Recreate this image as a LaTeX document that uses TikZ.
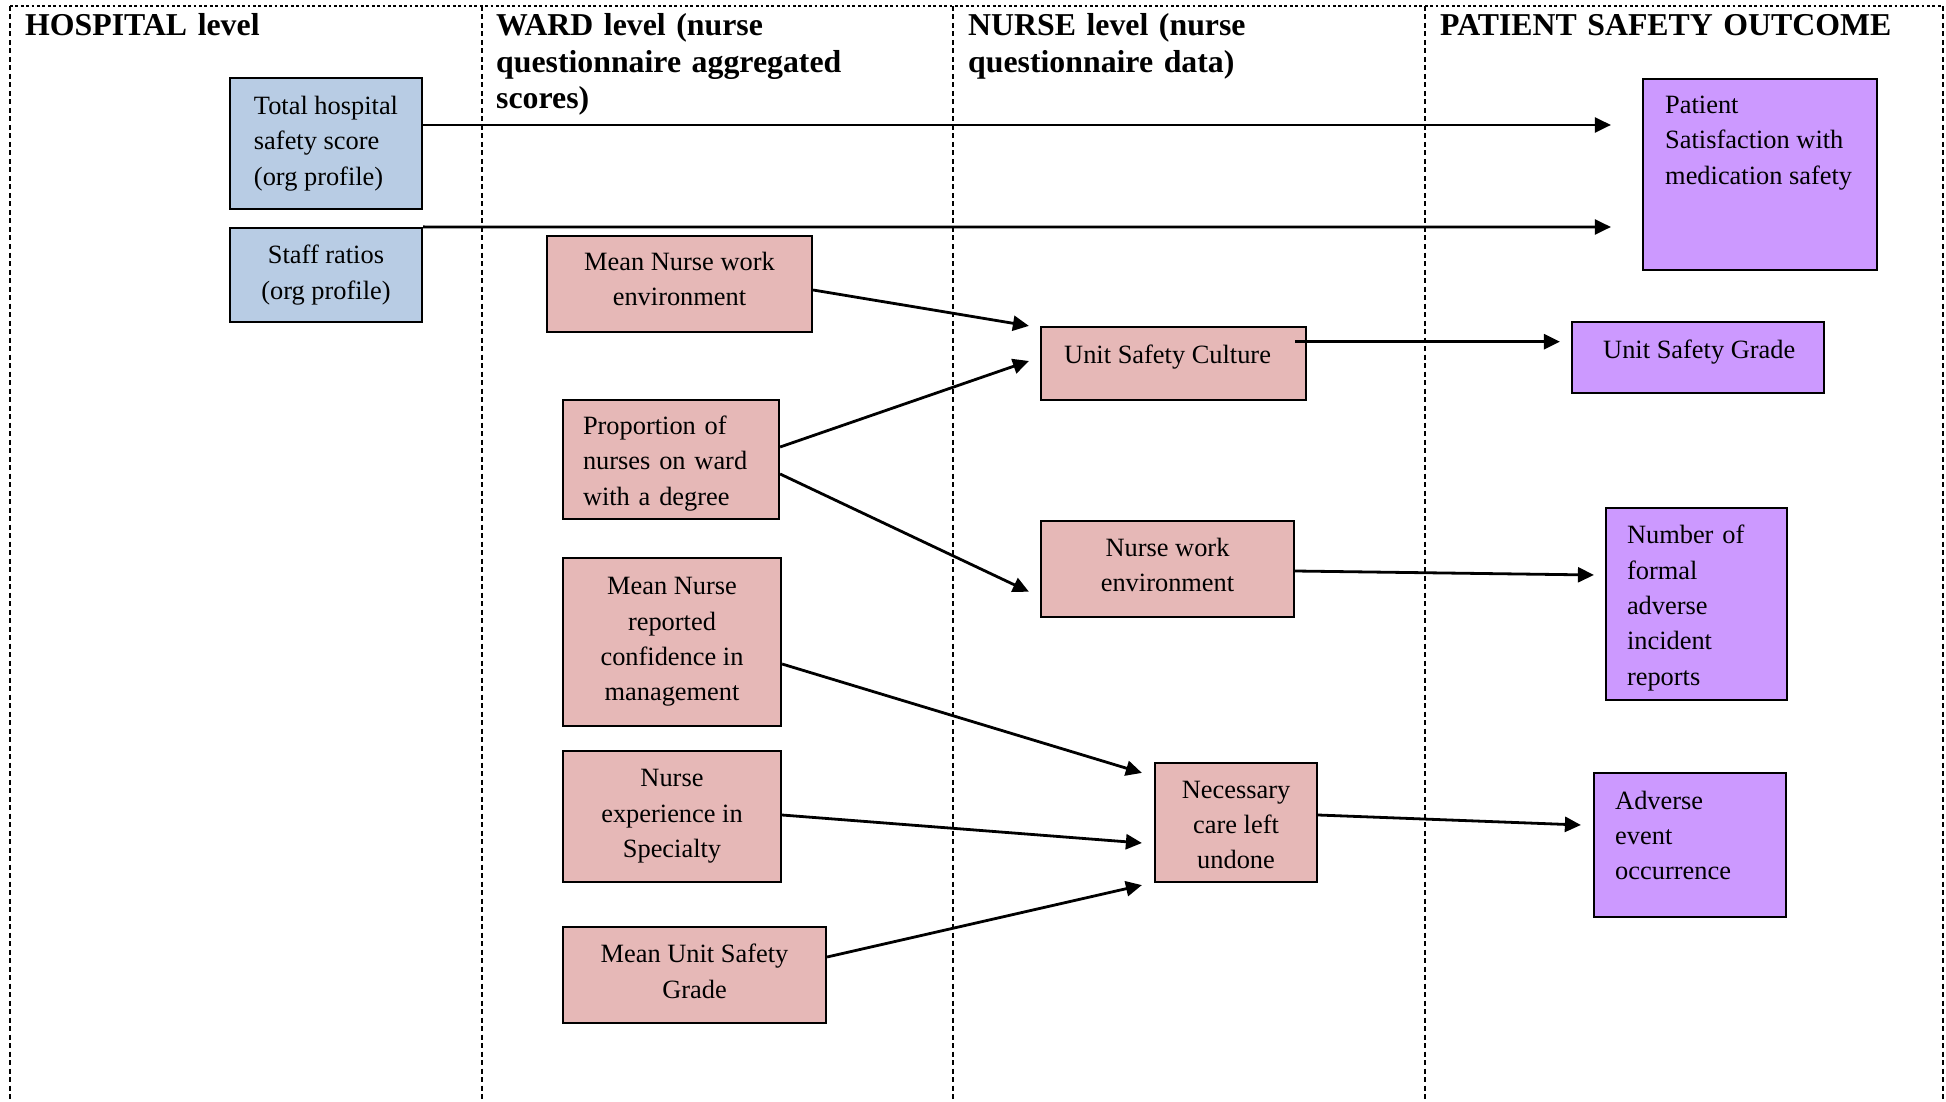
\documentclass[tikz,border=0pt]{standalone}
\usepackage{fontspec}
\setmainfont{Liberation Serif}
\usetikzlibrary{arrows.meta}
\definecolor{hospblue}{RGB}{184,204,228}
\definecolor{wardpink}{RGB}{230,184,183}
\definecolor{outpurple}{RGB}{204,153,255}
\begin{document}
\begin{tikzpicture}[x=1pt,y=-1pt,
  bodyfont/.style={font=\fontsize{26.4}{35.4}\selectfont},
  box/.style={draw=black, line width=2.2pt, rectangle, inner sep=0pt, bodyfont, align=center},
  lbox/.style={box, align=left, inner xsep=#1, inner ysep=0pt},
  txt/.style={inner sep=0pt, bodyfont, anchor=base west, align=left},
  head/.style={inner sep=0pt, anchor=base west, align=left, text width=460pt,
    font=\fontsize{31.8}{36.2}\selectfont\bfseries},
  divider/.style={line width=1.5pt, dash pattern=on 5pt off 3.5pt},
  topline/.style={line width=2.5pt, dash pattern=on 2.7pt off 2.7pt},
  arr/.style={line width=2.8pt, -{Triangle[length=16pt,width=15pt]}}
]
\useasboundingbox (0,0) rectangle (1946,1102);

% frame
\draw[topline] (10,6) -- (1943,6);
\draw[divider] (10,6) -- (10,1102);
\draw[divider] (482,6) -- (482,1102);
\draw[divider] (953,6) -- (953,1102);
\draw[divider] (1425,6) -- (1425,1102);
\draw[divider] (1943,6) -- (1943,1102);

% headers
\node[head] (h1) at (25,36) {HOSPITAL level};
\node[head, text width=420pt] (h2) at (496,36) {WARD level (nurse\\questionnaire aggregated\\scores)};
\node[head, text width=420pt] (h3) at (968,36) {NURSE level (nurse\\questionnaire data)};
\node[head] (h4) at (1440,36) {PATIENT SAFETY OUTCOME};

% hospital level
\node[box, fill=hospblue, minimum width=192pt, minimum height=131pt, align=left] (tot) at (326,143.3)
  {Total hospital\\safety score\\(org profile)};
\node[box, fill=hospblue, minimum width=192pt, minimum height=94pt] (staff) at (326,275)
  {Staff ratios\\(org profile)};

% ward level
\node[box, fill=wardpink, minimum width=265pt, minimum height=96pt, text depth=10pt] (mnwe) at (679.5,284)
  {Mean Nurse work\\environment};
\node[lbox=20pt, fill=wardpink, text width=176pt, minimum width=216pt, minimum height=119pt, text depth=68.5pt] (prop) at (671,459.5)
  {Proportion of\\nurses on ward\\with a degree};
\node[box, fill=wardpink, minimum width=218pt, minimum height=168pt] (mnrc) at (672,642)
  {Mean Nurse\\reported\\confidence in\\management};
\node[box, fill=wardpink, minimum width=218pt, minimum height=131pt] (nexp) at (672,816.5)
  {Nurse\\experience in\\Specialty};
\node[box, fill=wardpink, minimum width=263pt, minimum height=96pt, text depth=8pt] (musg) at (694.5,975)
  {Mean Unit Safety\\Grade};

% nurse level
\node[box, fill=wardpink, minimum width=265pt, minimum height=73pt] (usc) at (1173.5,363.5) {};
\node[txt] (usc-t) at (1064,363.3) {Unit Safety Culture};
\node[box, fill=wardpink, minimum width=253pt, minimum height=96pt, text depth=8pt] (nwe) at (1167.5,569)
  {Nurse work\\environment};
\node[box, fill=wardpink, minimum width=162pt, minimum height=119pt, text height=93pt] (nclu) at (1236,822.5)
  {Necessary\\care left\\undone};

% outcomes
\node[box, fill=outpurple, minimum width=234pt, minimum height=191pt] (psat) at (1760,174.5) {};
\node[txt] (psat-t) at (1665,184.1) {Patient\\Satisfaction with\\medication safety};
\node[box, fill=outpurple, minimum width=252pt, minimum height=71pt] (usg) at (1698,357.5) {};
\node[txt] (usg-t) at (1603,358.3) {Unit Safety Grade};
\node[lbox=21pt, fill=outpurple, text width=139pt, minimum width=181pt, minimum height=192pt, text depth=139.3pt] (nfair) at (1696.5,604)
  {Number of\\formal\\adverse\\incident\\reports};
\node[box, fill=outpurple, minimum width=192pt, minimum height=144pt] (aeo) at (1690,845) {};
\node[txt] (aeo-t) at (1615,879.8) {Adverse\\event\\occurrence};

% connectors
\draw[arr] ([yshift=18.3pt]tot.east) -- ([xshift=-31pt,yshift=49.5pt]psat.west);
\draw[arr] (staff.north east) -- ([xshift=-31pt,yshift=-52.5pt]psat.west);
\draw[arr] ([yshift=-6pt]mnwe.east) -- ([xshift=-11pt]usc.north west);
\draw[arr] ([yshift=12.5pt]prop.east) -- ([xshift=-11pt,yshift=2.5pt]usc.west);
\draw[arr] ([yshift=-14.5pt]prop.east) -- ([xshift=-11pt,yshift=-22.7pt]nwe.west);
\draw[arr] ([xshift=-12pt,yshift=21.8pt]usc.east) -- ([xshift=-11pt,yshift=15.8pt]usg.west);
\draw[arr] ([yshift=-2pt]nwe.east) -- ([xshift=-11pt,yshift=29pt]nfair.west);
\draw[arr] ([yshift=-22pt]mnrc.east) -- ([xshift=-12pt,yshift=-11pt]nclu.north west);
\draw[arr] ([yshift=1.5pt]nexp.east) -- ([xshift=-12pt,yshift=-20.5pt]nclu.west);
\draw[arr] ([yshift=18pt]musg.east) -- ([xshift=-12pt,yshift=-2pt]nclu.south west);
\draw[arr] ([yshift=7.5pt]nclu.east) -- ([xshift=-12pt,yshift=20pt]aeo.west);
\end{tikzpicture}
\end{document}
